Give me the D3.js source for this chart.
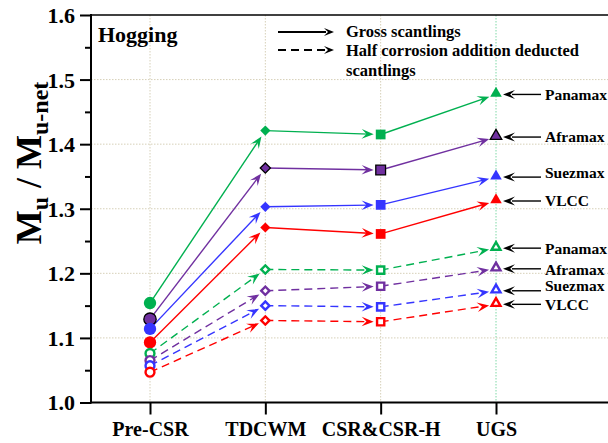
<!DOCTYPE html>
<html>
<head>
<meta charset="utf-8">
<script src="https://cdn.jsdelivr.net/npm/d3@7"></script>
<style>
  html, body { margin: 0; padding: 0; background: #fff; }
  svg { display: block; }
  text { font-family: "Liberation Serif", "Times New Roman", serif; font-weight: bold; fill: #000; }
</style>
</head>
<body>
<svg id="chart" width="608" height="443"></svg>
<script>
// Ultimate hull girder strength ratio, hogging condition
const categories = ["Pre-CSR", "TDCWM", "CSR&CSR-H", "UGS"];
const ships = ["Panamax", "Aframax", "Suezmax", "VLCC"];

// Gross scantlings
const grossPanamax = [1.154, 1.421, 1.415, 1.477];
const grossAframax = [1.129, 1.363, 1.360, 1.411];
const grossSuezmax = [1.114, 1.303, 1.306, 1.349];
const grossVLCC    = [1.093, 1.271, 1.261, 1.312];

// Half corrosion addition deducted scantlings
const halfPanamax = [1.076, 1.206, 1.205, 1.239];
const halfAframax = [1.065, 1.173, 1.180, 1.207];
const halfSuezmax = [1.057, 1.150, 1.148, 1.173];
const halfVLCC    = [1.047, 1.127, 1.125, 1.152];

const yTicks = [1.0, 1.1, 1.2, 1.3, 1.4, 1.5, 1.6];
const yMinorTicks = [1.05, 1.15, 1.25, 1.35, 1.45, 1.55];

const shipColors = { Panamax: "#00b050", Aframax: "#7030a0", Suezmax: "#3535ff", VLCC: "#ff0000" };
const markerShapes = ["circle", "diamond", "square", "triangle"];

const series = [
  { ship: "Panamax", kind: "gross", values: grossPanamax },
  { ship: "Aframax", kind: "gross", values: grossAframax },
  { ship: "Suezmax", kind: "gross", values: grossSuezmax },
  { ship: "VLCC",    kind: "gross", values: grossVLCC },
  { ship: "Panamax", kind: "half",  values: halfPanamax },
  { ship: "Aframax", kind: "half",  values: halfAframax },
  { ship: "Suezmax", kind: "half",  values: halfSuezmax },
  { ship: "VLCC",    kind: "half",  values: halfVLCC }
];

const svg = d3.select("#chart");
const plotLeft = 91, plotRight = 612, plotTop = 15, plotBottom = 402.5;

const x = d3.scalePoint().domain(categories).range([150, 496]);
const y = d3.scaleLinear().domain([1.0, 1.6]).range([plotBottom, plotTop]);

// gridlines
const grid = svg.append("g");
grid.selectAll("line.h").data(yTicks.filter(v => v > 1.0 && v < 1.6)).join("line")
  .attr("x1", plotLeft).attr("x2", plotRight)
  .attr("y1", d => y(d)).attr("y2", d => y(d))
  .attr("stroke", "#d6d0b8").attr("stroke-width", 1).attr("stroke-dasharray", "1.5,1.5");
grid.selectAll("line.v").data(categories).join("line")
  .attr("x1", d => x(d)).attr("x2", d => x(d))
  .attr("y1", plotTop).attr("y2", plotBottom)
  .attr("stroke", (d, i) => i === categories.length - 1 ? "#7fd8a6" : "#d6d0b8")
  .attr("stroke-width", 1).attr("stroke-dasharray", "1.5,1.5");

// axes
const yAxis = svg.append("g").attr("transform", `translate(${plotLeft},0)`)
  .call(d3.axisLeft(y).tickValues(yTicks).tickFormat(d3.format(".1f")).tickSize(11).tickPadding(5));
const yMinor = svg.append("g").attr("transform", `translate(${plotLeft},0)`)
  .call(d3.axisLeft(y).tickValues(yMinorTicks).tickFormat("").tickSize(6));
const xAxis = svg.append("g").attr("transform", `translate(0,${plotBottom})`)
  .call(d3.axisBottom(x).tickSize(12).tickPadding(7));

[yAxis, yMinor, xAxis].forEach(g => {
  g.select(".domain").remove();
  g.selectAll(".tick line").attr("stroke", "#000").attr("stroke-width", 2);
  g.selectAll("text").attr("fill", "#000");
});
yAxis.selectAll("text").attr("font-size", 22).attr("dy", "0.34em");
xAxis.selectAll("text").attr("font-size", 20);

svg.append("line").attr("x1", plotLeft).attr("x2", plotLeft).attr("y1", plotTop - 1).attr("y2", plotBottom + 1)
  .attr("stroke", "#000").attr("stroke-width", 2);
svg.append("line").attr("x1", plotLeft).attr("x2", plotRight).attr("y1", plotBottom).attr("y2", plotBottom)
  .attr("stroke", "#000").attr("stroke-width", 2);
svg.append("line").attr("x1", plotLeft).attr("x2", plotRight).attr("y1", plotTop).attr("y2", plotTop)
  .attr("stroke", "#000").attr("stroke-width", 1.5);

// y axis title
const title = svg.append("text")
  .attr("transform", "translate(41,163) rotate(-90)")
  .attr("text-anchor", "middle").attr("font-size", 36);
title.append("tspan").text("M");
title.append("tspan").attr("font-size", 24).attr("dy", 7).text("u");
title.append("tspan").attr("dy", -7).text(" / M");
title.append("tspan").attr("font-size", 24).attr("dy", 7).text("u-net");

// barbed arrowhead with tip at (tx, ty), pointing along angle a
function arrowHead(g, tx, ty, a, color, len = 12, half = 4.8) {
  const p = (dx, dy) => [tx + dx * Math.cos(a) - dy * Math.sin(a), ty + dx * Math.sin(a) + dy * Math.cos(a)];
  const pts = [p(0, 0), p(-len, -half), p(-len * 0.6, 0), p(-len, half)];
  g.append("path").attr("d", "M" + pts.map(q => q.join(",")).join("L") + "Z")
    .attr("fill", color).attr("stroke", "none");
}

// connecting lines with arrowheads ending at each next marker
const linesG = svg.append("g");
series.forEach(s => {
  const col = shipColors[s.ship];
  for (let i = 0; i < categories.length - 1; i++) {
    const x0 = x(categories[i]), y0 = y(s.values[i]);
    const x1 = x(categories[i + 1]), y1 = y(s.values[i + 1]);
    const a = Math.atan2(y1 - y0, x1 - x0);
    const gap = 7;
    const tx = x1 - gap * Math.cos(a), ty = y1 - gap * Math.sin(a);
    linesG.append("line")
      .attr("x1", x0).attr("y1", y0)
      .attr("x2", tx - 5 * Math.cos(a)).attr("y2", ty - 5 * Math.sin(a))
      .attr("stroke", col).attr("stroke-width", 1.4)
      .attr("stroke-dasharray", s.kind === "half" ? "8,5" : null);
    arrowHead(linesG, tx, ty, a, col);
  }
});

// markers
const symbolTypes = {
  circle: d3.symbolCircle, diamond: d3.symbolSquare, square: d3.symbolSquare, triangle: d3.symbolTriangle
};
const markersG = svg.append("g");
series.forEach(s => {
  const col = shipColors[s.ship];
  s.values.forEach((v, i) => {
    const shape = markerShapes[i];
    const filled = s.kind === "gross";
    const size = { circle: filled ? 120 : 62, diamond: filled ? 52 : 34, square: filled ? 95 : 52, triangle: filled ? 58 : 34 }[shape];
    const dyOff = shape === "triangle" ? -1 : 0;
    markersG.append("path")
      .attr("d", d3.symbol().type(symbolTypes[shape]).size(size)())
      .attr("transform", `translate(${x(categories[i])},${y(v) + dyOff})` + (shape === "diamond" ? " rotate(45)" : ""))
      .attr("fill", filled ? col : "#fff")
      .attr("stroke", filled ? (s.ship === "Aframax" ? "#000" : col) : col)
      .attr("stroke-width", filled ? (s.ship === "Aframax" ? 1.3 : 0) : 2.4);
  });
});

// ship labels at the UGS end
const labelG = svg.append("g");
const labelNudge = { gross: { Suezmax: -5 }, half: { Suezmax: -5, Aframax: 1 } };
series.forEach(s => {
  const yy = y(s.values[categories.length - 1]);
  labelG.append("line").attr("x1", 512).attr("x2", 541).attr("y1", yy).attr("y2", yy)
    .attr("stroke", "#000").attr("stroke-width", 1.4);
  arrowHead(labelG, 503, yy, Math.PI, "#000", 12, 4.5);
  const dy = (labelNudge[s.kind][s.ship] || 0);
  labelG.append("text").attr("x", 545).attr("y", yy + dy).attr("dy", "0.35em")
    .attr("font-size", 15.5).text(s.ship);
});

// panel title and legend
svg.append("text").attr("x", 98).attr("y", 42).attr("font-size", 22).text("Hogging");

const legend = svg.append("g");
legend.append("line").attr("x1", 278).attr("x2", 326).attr("y1", 32).attr("y2", 32)
  .attr("stroke", "#000").attr("stroke-width", 2);
arrowHead(legend, 334, 32, 0, "#000", 10, 4);
legend.append("line").attr("x1", 278).attr("x2", 326).attr("y1", 50).attr("y2", 50)
  .attr("stroke", "#000").attr("stroke-width", 2).attr("stroke-dasharray", "8,5");
arrowHead(legend, 334, 50, 0, "#000", 10, 4);
legend.append("text").attr("x", 346).attr("y", 37).attr("font-size", 16.5).text("Gross scantlings");
legend.append("text").attr("x", 346).attr("y", 56).attr("font-size", 16.5).text("Half corrosion addition deducted");
legend.append("text").attr("x", 346).attr("y", 76).attr("font-size", 16.5).text("scantlings");
</script>
</body>
</html>
